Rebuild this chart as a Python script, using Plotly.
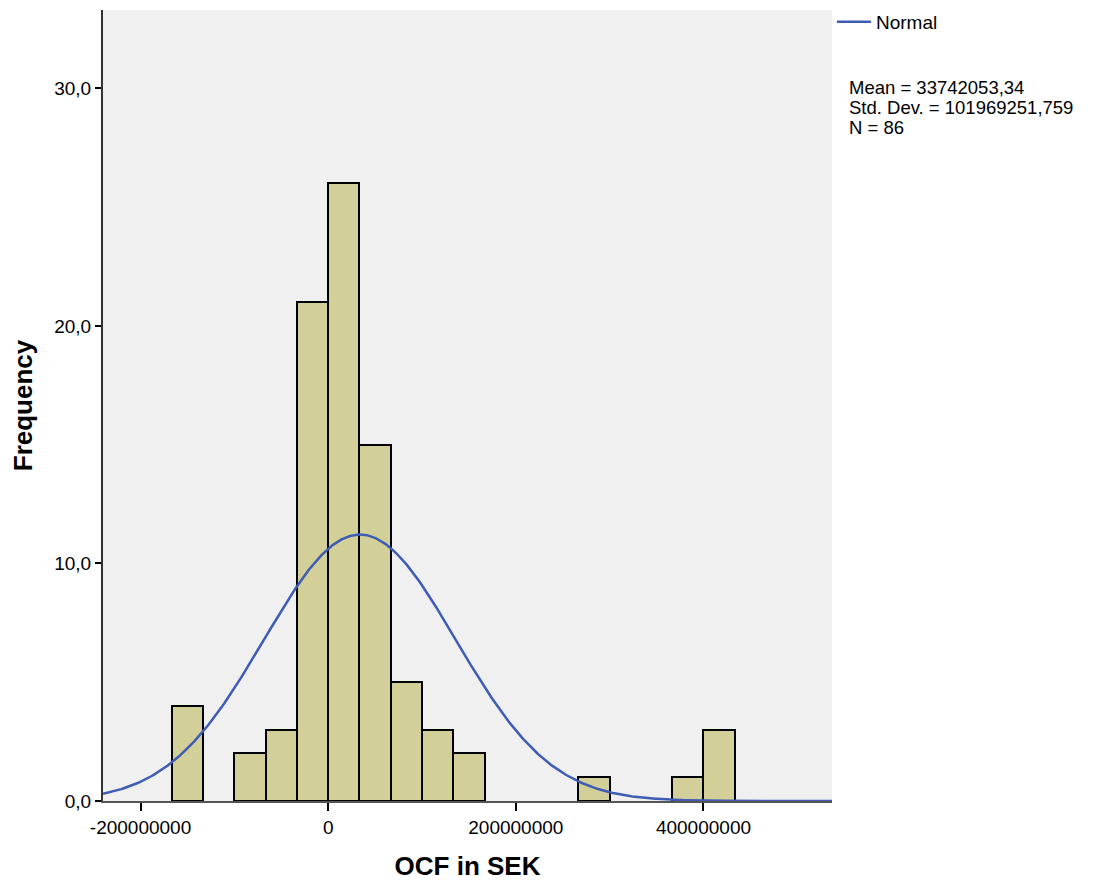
import numpy as np
import plotly.graph_objects as go

# Histogram bins (left edges, SEK) and counts
bin_width = 100000000 / 3
bin_left_edges = [-166666667, -100000000, -66666667, -33333333, 0, 33333333,
                  66666667, 100000000, 133333333, 266666667, 366666667, 400000000]
counts = [4, 2, 3, 21, 26, 15, 5, 3, 2, 1, 1, 3]

# Fitted normal stats shown on chart
mean = 33742053.34
std_dev = 101969251.759
n_obs = 86
stats_lines = ["Mean = 33742053,34", "Std. Dev. = 101969251,759", "N = 86"]

x_tickvals = [-200000000, 0, 200000000, 400000000]
x_ticktext = ["-200000000", "0", "200000000", "400000000"]
x_range = [-240000000, 537000000]
y_range = [0, 33.3]

centers = [e + bin_width / 2 for e in bin_left_edges]

fig = go.Figure()
fig.add_trace(go.Bar(
    x=centers, y=counts, width=[bin_width] * len(counts),
    marker=dict(color="#D3CF98", line=dict(color="black", width=2)),
    showlegend=False, hoverinfo="skip",
))

xs = np.linspace(x_range[0], x_range[1], 600)
ys = n_obs * bin_width / (std_dev * np.sqrt(2 * np.pi)) * np.exp(-0.5 * ((xs - mean) / std_dev) ** 2)
fig.add_trace(go.Scatter(
    x=xs, y=ys, mode="lines", name="Normal",
    line=dict(color="#3F5CB5", width=2.5),
))

plot_top, plot_bottom = 10, 801
def ypaper(px):
    return (plot_bottom - px) / (plot_bottom - plot_top)

annotations = []
for i, line in enumerate(stats_lines):
    annotations.append(dict(
        xref="paper", yref="paper", x=1.02, y=ypaper(87 + 20 * i),
        xanchor="left", yanchor="middle", align="left", showarrow=False,
        text=line, font=dict(size=18.5),
    ))

fig.update_layout(
    width=1094, height=881,
    margin=dict(l=103, r=262, t=10, b=80, autoexpand=False),
    plot_bgcolor="#F0F0F0", paper_bgcolor="white",
    separators=", ",
    font=dict(family="Liberation Sans, Arial, sans-serif", size=19, color="black"),
    bargap=0,
    legend=dict(x=1.0, xanchor="left", y=ypaper(22), yanchor="middle", bgcolor="rgba(0,0,0,0)",
                font=dict(size=19), itemwidth=34, tracegroupgap=0),
    annotations=annotations,
)
fig.update_xaxes(
    range=x_range, tickvals=x_tickvals, ticktext=x_ticktext, automargin=False,
    showgrid=False, zeroline=False,
    showline=True, linecolor="#555555", linewidth=2,
    ticks="outside", ticklen=8, tickwidth=2, tickcolor="black",
    title=dict(text="<b>OCF in SEK</b>", font=dict(size=26), standoff=24),
)
fig.update_yaxes(
    range=y_range, tick0=0, dtick=10, tickformat=".1f", automargin=False,
    showgrid=False, zeroline=False,
    showline=True, linecolor="#333333", linewidth=2,
    ticks="outside", ticklen=6, tickwidth=2, tickcolor="black",
    title=dict(text="<b>Frequency</b>", font=dict(size=26), standoff=14),
)

fig.write_html("out.html")
